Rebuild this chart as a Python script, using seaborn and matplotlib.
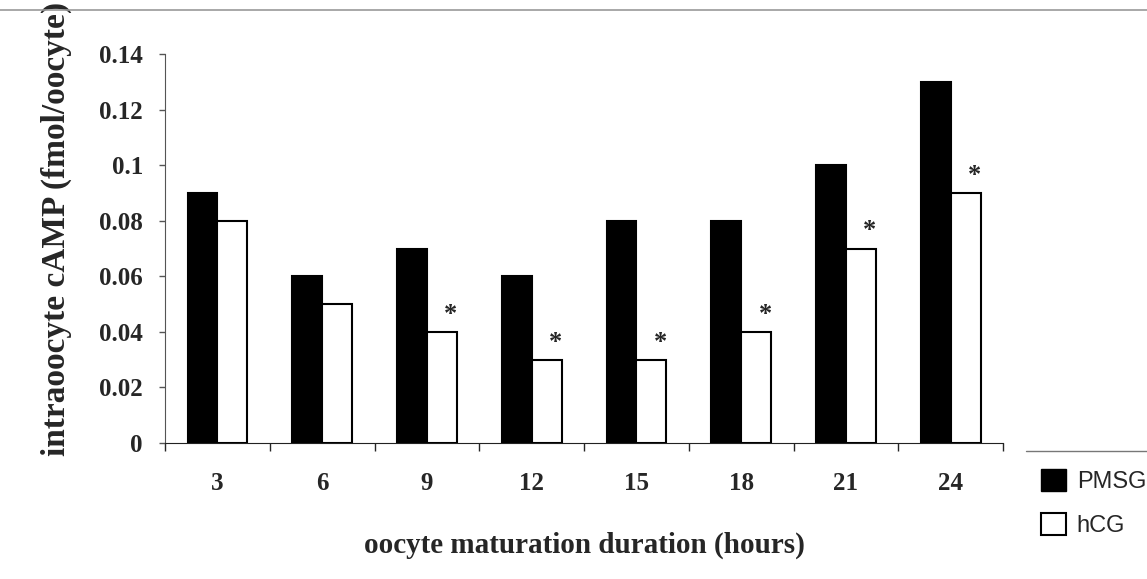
import pandas as pd
import matplotlib.pyplot as plt
import seaborn as sns
from matplotlib.patches import Patch
from matplotlib.lines import Line2D
from matplotlib.ticker import FuncFormatter

hours = ['3', '6', '9', '12', '15', '18', '21', '24']
pmsg = [0.09, 0.06, 0.07, 0.06, 0.08, 0.08, 0.10, 0.13]
hcg = [0.08, 0.05, 0.04, 0.03, 0.03, 0.04, 0.07, 0.09]
signif = [False, False, True, True, True, True, True, True]

df = pd.DataFrame({
    'hours': hours * 2,
    'camp': pmsg + hcg,
    'group': ['PMSG'] * len(hours) + ['hCG'] * len(hours),
})

sns.set_style('white')
plt.rcParams['font.family'] = ['Liberation Serif', 'DejaVu Serif']

fig = plt.figure(figsize=(11.47, 5.79), dpi=100)
ax = fig.add_axes([0.1439, 0.2349, 0.7306, 0.6718])

sns.barplot(data=df, x='hours', y='camp', hue='group', hue_order=['PMSG', 'hCG'],
            palette={'PMSG': 'black', 'hCG': 'white'}, edgecolor='black',
            linewidth=1.5, width=0.57, ax=ax, legend=False)

# asterisks over hCG bars
for bar, s in zip(ax.containers[1], signif):
    if s:
        ax.text(bar.get_x() + bar.get_width() * 0.8, bar.get_height() + 0.004, '*',
                ha='center', va='baseline', fontsize=19, fontweight='bold')

ax.set_ylim(0, 0.14)
ax.set_xlim(-0.5, len(hours) - 0.5)
ax.set_yticks([0, 0.02, 0.04, 0.06, 0.08, 0.1, 0.12, 0.14])
ax.yaxis.set_major_formatter(FuncFormatter(lambda v, p: '%g' % round(v, 2)))
ax.set_xticks([i - 0.5 for i in range(len(hours) + 1)], minor=True)
ax.tick_params(axis='x', which='major', length=0, pad=21)
ax.tick_params(axis='x', which='minor', length=6, width=1, direction='out', bottom=True)
ax.tick_params(axis='y', length=4, width=1, direction='out', left=True, pad=12,
               color='#555555')
for lab in ax.get_xticklabels() + ax.get_yticklabels():
    lab.set_fontsize(18)
    lab.set_fontweight('bold')

ax.set_xlabel('oocyte maturation duration (hours)', fontsize=21, fontweight='bold')
ax.xaxis.set_label_coords(0.5, -0.228)
ax.set_ylabel('intraoocyte cAMP (fmol/oocyte)', fontsize=24, fontweight='bold')
ax.yaxis.set_label_coords(-0.111, 0.55)

sns.despine(ax=ax)
ax.spines['left'].set_color('#555555')
ax.spines['bottom'].set_color('#222222')

handles = [Patch(facecolor='black', edgecolor='black'),
           Patch(facecolor='white', edgecolor='black', linewidth=1.5)]
fig.legend(handles, ['PMSG', 'hCG'], loc='upper left', bbox_to_anchor=(0.9076, 0.19),
           frameon=False, borderpad=0, borderaxespad=0, handlelength=1.06,
           handleheight=1.06, handletextpad=0.45, labelspacing=0.85,
           prop={'family': 'Liberation Sans', 'size': 17})

fig.add_artist(Line2D([0, 1], [0.982, 0.982], color='#999999', linewidth=1.2))
fig.add_artist(Line2D([0.8945, 1], [0.221, 0.221], color='#777777', linewidth=1))

fig.savefig('out.png', dpi=100)
